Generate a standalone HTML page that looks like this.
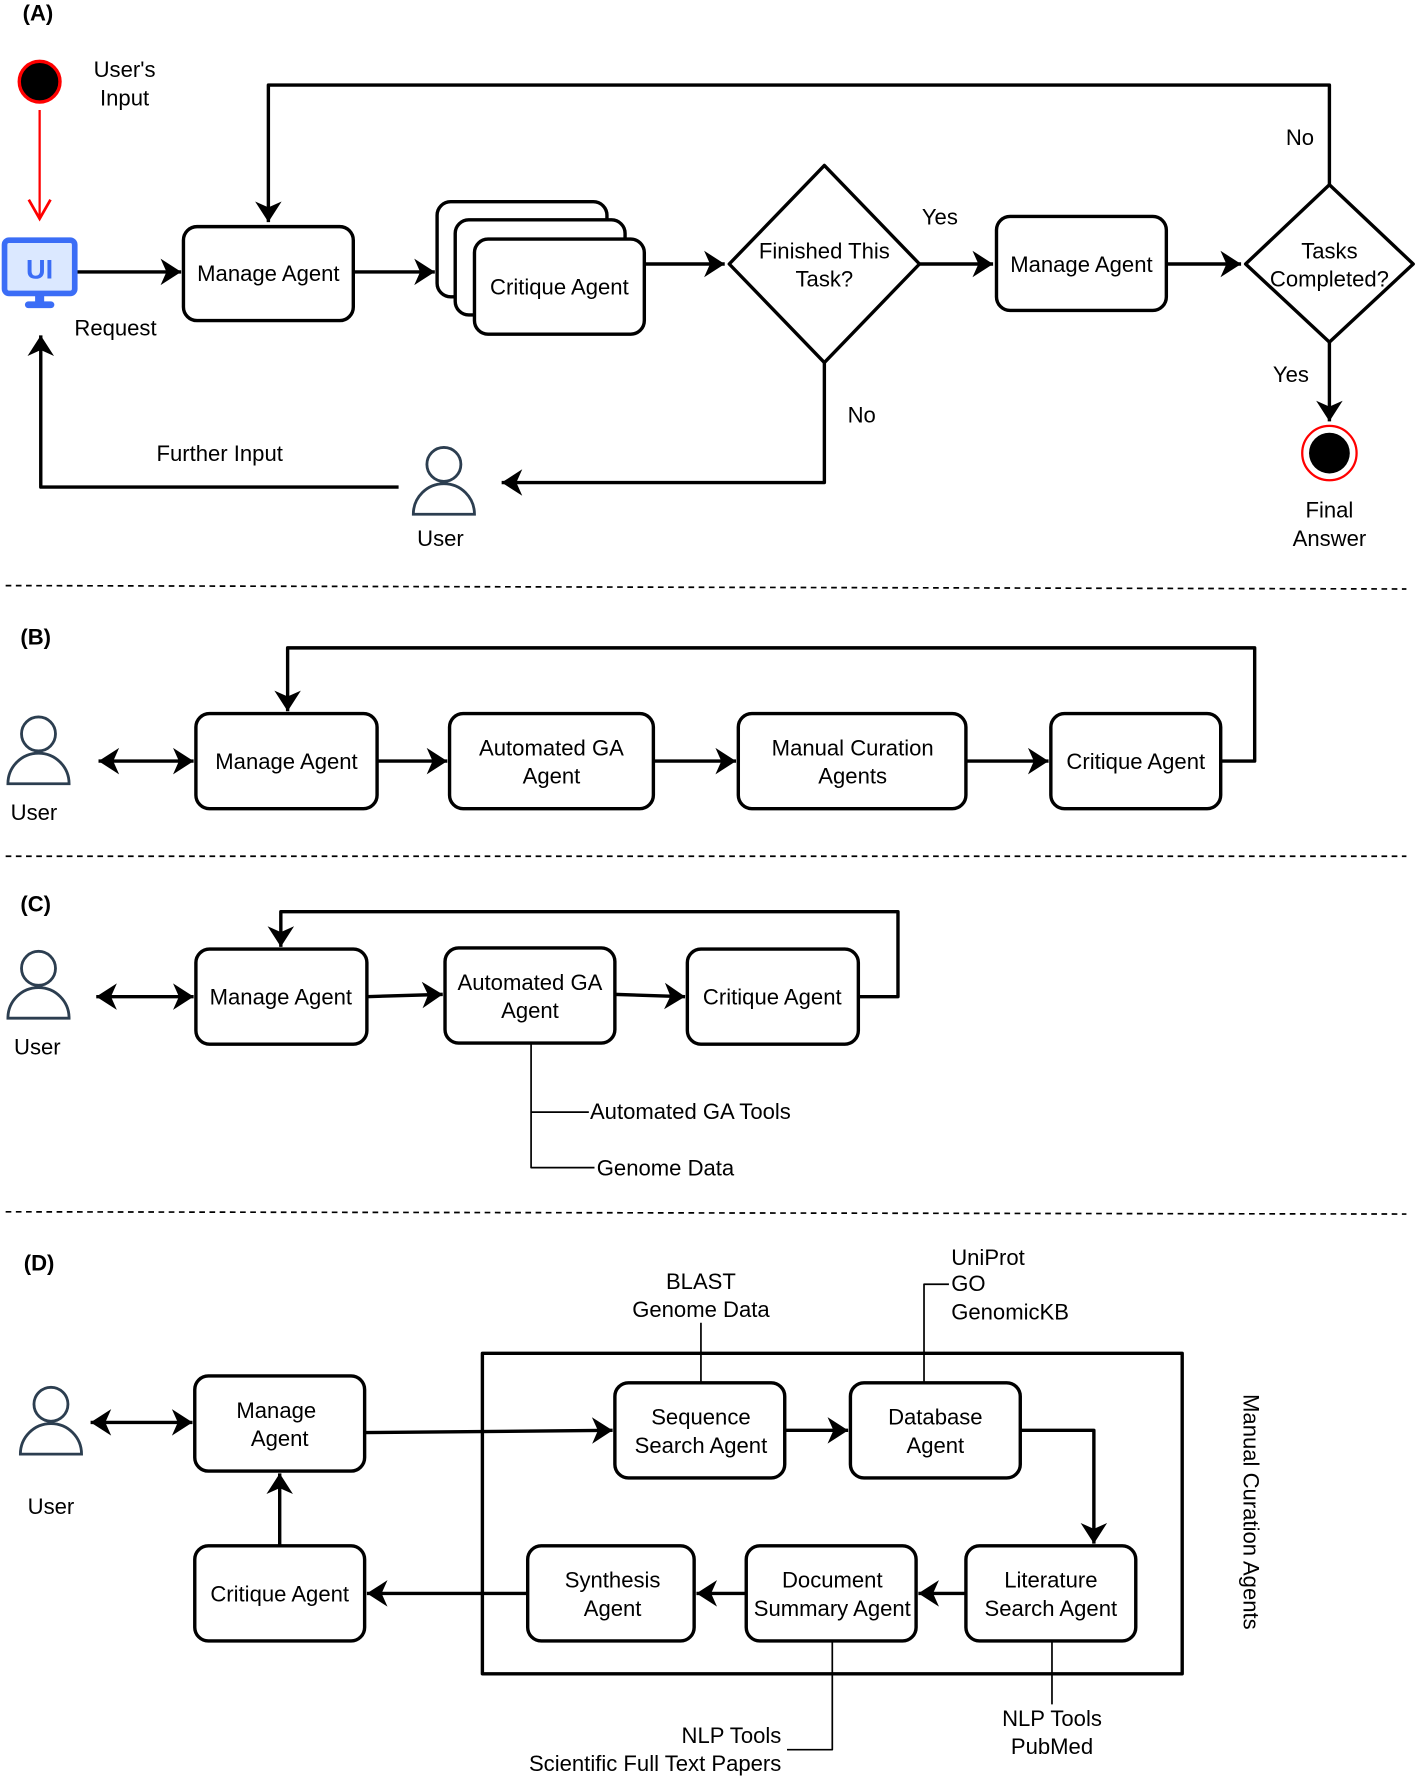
<!DOCTYPE html>
<html><head><meta charset="utf-8"><style>
html,body{margin:0;padding:0;background:#fff}
svg{display:block}
text{font-family:"Liberation Sans",Arial,sans-serif;font-size:19.5px;fill:#000}
</style></head><body>
<svg width="1420" height="1777" viewBox="0 0 1254 1569" xmlns="http://www.w3.org/2000/svg">
<defs>
<marker id="a" viewBox="0 0 10 10" refX="9" refY="5" markerWidth="13" markerHeight="13" markerUnits="userSpaceOnUse" orient="auto-start-reverse" overflow="visible">
<path d="M-12,-4 L2,5 L-12,14 L-8,5 Z" fill="#000" transform="translate(7,0)"/>
</marker>
<marker id="r" viewBox="0 0 10 10" refX="9" refY="5" markerWidth="12" markerHeight="12" markerUnits="userSpaceOnUse" orient="auto" overflow="visible">
<path d="M-5,-3 L9,5 L-5,13" fill="none" stroke="red" stroke-width="2"/>
</marker>
<g id="user" fill="none" stroke="#2c3e50" stroke-width="2.5">
<circle cx="0" cy="-14" r="15"/>
<path d="M-27,30 A27,27 0 0 1 27,30 Z"/>
</g>
</defs>
<g fill="none" stroke="#000" stroke-width="3" stroke-linejoin="round">
<!-- A -->
<line x1="35" y1="97" x2="35" y2="193" stroke="red" stroke-width="2" marker-end="url(#r)"/>
<line x1="68" y1="240" x2="160" y2="240" marker-end="url(#a)"/>
<rect x="162" y="200" width="150" height="83" rx="12"/>
<path d="M312,240 H384" marker-end="url(#a)"/>
<rect x="386" y="178" width="150" height="84" rx="12" fill="#fff"/>
<rect x="402" y="194" width="150" height="84" rx="12" fill="#fff"/>
<rect x="419" y="211" width="150" height="84" rx="12" fill="#fff"/>
<line x1="569" y1="233" x2="640" y2="233" marker-end="url(#a)"/>
<path d="M728,146 L812,233 L728,320 L644,233 Z"/>
<line x1="812" y1="233" x2="877" y2="233" marker-end="url(#a)"/>
<rect x="880" y="191" width="150" height="83" rx="12"/>
<line x1="1030" y1="233" x2="1096" y2="233" marker-end="url(#a)"/>
<path d="M1174,163 L1248,233 L1174,302 L1100,233 Z"/>
<path d="M1174,163 V75 H237 V196" marker-end="url(#a)"/>
<line x1="1174" y1="302" x2="1174" y2="372" marker-end="url(#a)"/>
<path d="M728,320 V426 H443" marker-end="url(#a)"/>
<path d="M352,430 H36 V296" marker-end="url(#a)"/>
<!-- B -->
<line x1="87" y1="672" x2="171" y2="672" marker-start="url(#a)" marker-end="url(#a)"/>
<rect x="173" y="630" width="160" height="84" rx="12"/>
<line x1="333" y1="672" x2="395" y2="672" marker-end="url(#a)"/>
<rect x="397" y="630" width="180" height="84" rx="12"/>
<line x1="577" y1="672" x2="650" y2="672" marker-end="url(#a)"/>
<rect x="652" y="630" width="201" height="84" rx="12"/>
<line x1="853" y1="672" x2="926" y2="672" marker-end="url(#a)"/>
<rect x="928" y="630" width="150" height="84" rx="12"/>
<path d="M1078,672 H1108 V572 H254 V628" marker-end="url(#a)"/>
<!-- C -->
<line x1="85" y1="880" x2="171" y2="880" marker-start="url(#a)" marker-end="url(#a)"/>
<rect x="173" y="838" width="151" height="84" rx="12"/>
<line x1="324" y1="880" x2="391" y2="878" marker-end="url(#a)"/>
<rect x="393" y="837" width="150" height="84" rx="12"/>
<line x1="543" y1="878" x2="605" y2="880" marker-end="url(#a)"/>
<rect x="607" y="838" width="151" height="84" rx="12"/>
<path d="M758,880 H793 V805 H248 V836" marker-end="url(#a)"/>
<path d="M469,921 V1031 H525 M469,982 H520" stroke-width="1.5"/>
<!-- D -->
<line x1="80" y1="1256" x2="170" y2="1256" marker-start="url(#a)" marker-end="url(#a)"/>
<rect x="172" y="1215" width="150" height="84" rx="12"/>
<rect x="172" y="1365" width="150" height="84" rx="12"/>
<line x1="247" y1="1365" x2="247" y2="1301" marker-end="url(#a)"/>
<rect x="426" y="1195" width="618" height="283"/>
<line x1="322" y1="1265" x2="541" y2="1263" marker-end="url(#a)"/>
<rect x="543" y="1221" width="150" height="84" rx="12" fill="#fff"/>
<line x1="693" y1="1263" x2="749" y2="1263" marker-end="url(#a)"/>
<rect x="751" y="1221" width="150" height="84" rx="12" fill="#fff"/>
<path d="M901,1263 H966 V1363" marker-end="url(#a)"/>
<rect x="853" y="1365" width="150" height="84" rx="12"/>
<line x1="853" y1="1407" x2="811" y2="1407" marker-end="url(#a)"/>
<rect x="659" y="1365" width="150" height="84" rx="12"/>
<line x1="659" y1="1407" x2="615" y2="1407" marker-end="url(#a)"/>
<rect x="466" y="1365" width="147" height="84" rx="12"/>
<line x1="466" y1="1407" x2="324" y2="1407" marker-end="url(#a)"/>
<g stroke-width="1.5">
<line x1="619" y1="1168" x2="619" y2="1221"/>
<path d="M816,1221 V1134 H838"/>
<line x1="929" y1="1449" x2="929" y2="1505"/>
<path d="M735,1449 V1545 H695"/>
</g>
</g>
<!-- dashed -->
<g stroke="#000" stroke-width="1.5" stroke-dasharray="5,4">
<line x1="5" y1="517" x2="1242" y2="520"/>
<line x1="5" y1="756" x2="1242" y2="756"/>
<line x1="5" y1="1070" x2="1242" y2="1072"/>
</g>
<!-- circles -->
<circle cx="35" cy="72" r="18" fill="#000" stroke="red" stroke-width="3"/>
<circle cx="1174" cy="400" r="24" fill="#fff" stroke="red" stroke-width="2"/>
<circle cx="1174" cy="400" r="18" fill="#000"/>
<!-- UI icon -->
<rect x="4" y="212" width="62" height="47" rx="4" fill="#dbe8ff" stroke="#3b6df6" stroke-width="5"/>
<rect x="31" y="260" width="8" height="8" fill="#3b6df6"/>
<rect x="22" y="266" width="26" height="6" rx="3" fill="#3b6df6"/>
<text x="35" y="246" text-anchor="middle" style="font-size:24px;font-weight:bold;fill:#3b6df6">UI</text>
<!-- users -->
<use href="#user" x="392" y="424"/>
<use href="#user" x="34" y="662"/>
<use href="#user" x="34" y="869"/>
<use href="#user" x="45" y="1254"/>
<!-- text -->
<g text-anchor="middle">
<text x="110" y="68">User's</text><text x="110" y="93">Input</text>
<text x="102" y="296">Request</text>
<text x="237" y="248">Manage Agent</text>
<text x="494" y="260">Critique Agent</text>
<text x="728" y="228">Finished This</text><text x="728" y="253">Task?</text>
<text x="830" y="198">Yes</text>
<text x="955" y="240">Manage Agent</text>
<text x="1174" y="228">Tasks</text><text x="1174" y="253">Completed?</text>
<text x="1148" y="128">No</text>
<text x="1140" y="337">Yes</text>
<text x="761" y="373">No</text>
<text x="1174" y="457">Final</text><text x="1174" y="482">Answer</text>
<text x="389" y="482">User</text>
<text x="194" y="407">Further Input</text>
<text x="30" y="724">User</text>
<text x="253" y="679">Manage Agent</text>
<text x="487" y="667">Automated GA</text><text x="487" y="692">Agent</text>
<text x="753" y="667">Manual Curation</text><text x="753" y="692">Agents</text>
<text x="1003" y="679">Critique Agent</text>
<text x="33" y="931">User</text>
<text x="248" y="887">Manage Agent</text>
<text x="468" y="874">Automated GA</text><text x="468" y="899">Agent</text>
<text x="682" y="887">Critique Agent</text>
<text x="45" y="1337">User</text>
<text x="244" y="1252">Manage</text><text x="247" y="1277">Agent</text>
<text x="247" y="1414">Critique Agent</text>
<text x="619" y="1258">Sequence</text><text x="619" y="1283">Search Agent</text>
<text x="826" y="1258">Database</text><text x="826" y="1283">Agent</text>
<text x="928" y="1402">Literature</text><text x="928" y="1427">Search Agent</text>
<text x="735" y="1402">Document</text><text x="735" y="1427">Summary Agent</text>
<text x="541" y="1402">Synthesis</text><text x="541" y="1427">Agent</text>
<text x="619" y="1138">BLAST</text><text x="619" y="1163">Genome Data</text>
<text x="929" y="1524">NLP Tools</text><text x="929" y="1549">PubMed</text>
</g>
<text x="521" y="988">Automated GA Tools</text>
<text x="527" y="1038">Genome Data</text>
<text x="840" y="1117">UniProt</text><text x="840" y="1140">GO</text><text x="840" y="1165">GenomicKB</text>
<g text-anchor="end">
<text x="690" y="1539">NLP Tools</text><text x="690" y="1564">Scientific Full Text Papers</text>
</g>
<g style="font-weight:bold">
<text x="20" y="18">(A)</text><text x="18" y="569">(B)</text><text x="18" y="805">(C)</text><text x="21" y="1122">(D)</text>
</g>
<text x="0" y="0" text-anchor="middle" transform="translate(1098,1335) rotate(90)">Manual Curation Agents</text>
</svg>
</body></html>
